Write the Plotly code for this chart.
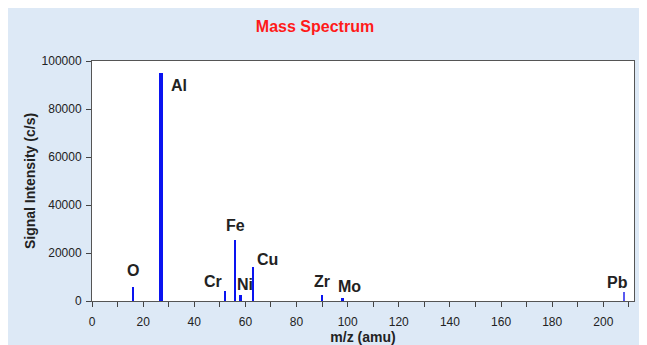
import plotly.graph_objects as go

elements = ["O", "Al", "Cr", "Fe", "Ni", "Cu", "Zr", "Mo", "Pb"]
mz = [16, 27, 52, 56, 58, 63, 90, 98, 208]
intensity = [5800, 95000, 4100, 25300, 2700, 14200, 2500, 1100, 3900]
x_ticks = [0, 20, 40, 60, 80, 100, 120, 140, 160, 180, 200]
y_ticks = [0, 20000, 40000, 60000, 80000, 100000]

# label offsets in pixels (style)
label_dx = [0, 18, -12, 0, 5, 14, 0, 7, -6]
label_dy = [17, -12, 10, 15, 10, 7, 14, 12, 9]
bar_w = [1.0, 1.2, 1.0, 1.0, 1.0, 1.0, 1.0, 1.0, 0.5]
bar_c = ["#0a14f0"] * 8 + ["#5a5af0"]

fig = go.Figure()
fig.add_trace(go.Bar(x=mz, y=intensity, width=bar_w, marker=dict(color=bar_c, line=dict(width=0)),
                     showlegend=False))

for el, x, y, dx, dy in zip(elements, mz, intensity, label_dx, label_dy):
    fig.add_annotation(x=x, y=y, text="<b>" + el + "</b>", showarrow=False, xshift=dx, yshift=dy,
                       font=dict(family="Liberation Sans, Arial", size=16, color="#222222"))

fig.update_layout(
    width=647, height=345,
    margin=dict(l=84, r=21, t=53, b=52),
    paper_bgcolor="#dde9f6",
    plot_bgcolor="#ffffff",
    title=dict(text="<b>Mass Spectrum</b>", x=0.4745, xanchor="center", y=0.946, yanchor="middle",
               font=dict(family="Liberation Sans, Arial", size=16, color="#ff1a1a")),
    font=dict(family="Liberation Sans, Arial", size=12, color="#222222"),
    bargap=0,
)
fig.update_xaxes(range=[0, 212], tickmode="array", tickvals=x_ticks, ticks="outside", ticklen=5,
                 tickcolor="#444", showgrid=False, zeroline=False, showline=True, linecolor="#555",
                 linewidth=1, mirror=True, ticklabelstandoff=5,
                 minor=dict(dtick=10, tick0=0, ticks="outside", ticklen=5, tickcolor="#444"),
                 title=dict(text="<b>m/z (amu)</b>", font=dict(size=14), standoff=3),
                 tickfont=dict(size=12))
fig.update_yaxes(range=[0, 100000], tickmode="array", tickvals=y_ticks, ticks="outside", ticklen=5,
                 tickformat="d", ticklabelstandoff=2,
                 tickcolor="#444", showgrid=False, zeroline=False, showline=True, linecolor="#555",
                 linewidth=1, mirror=True,
                 title=dict(text="<b>Signal Intensity (c/s)</b>", font=dict(size=14), standoff=2),
                 tickfont=dict(size=12))

fig.write_html("out.html")
